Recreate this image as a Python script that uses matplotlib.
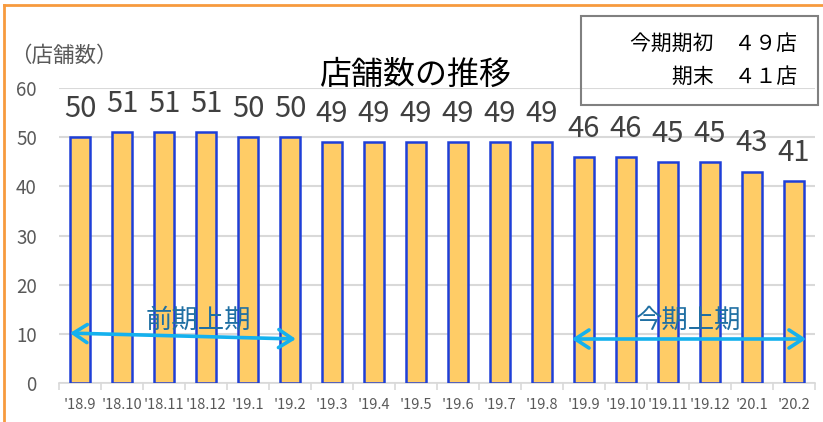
import matplotlib
matplotlib.use("Agg")
import matplotlib.pyplot as plt
from matplotlib.lines import Line2D
from matplotlib.patches import Rectangle

plt.rcParams['font.family'] = ['Noto Sans CJK JP', 'DejaVu Sans']

categories = ["'18.9", "'18.10", "'18.11", "'18.12", "'19.1", "'19.2", "'19.3", "'19.4",
              "'19.5", "'19.6", "'19.7", "'19.8", "'19.9", "'19.10", "'19.11", "'19.12",
              "'20.1", "'20.2"]
values = [50, 51, 51, 51, 50, 50, 49, 49, 49, 49, 49, 49, 46, 46, 45, 45, 43, 41]
yticks = [0, 10, 20, 30, 40, 50, 60]
title = "店舗数の推移"
ylabel = "（店舗数）"
box_lines = ["今期期初　４９店", "期末　４１店"]
prev_label = "前期上期"
curr_label = "今期上期"

W, H = 823, 422
fig = plt.figure(figsize=(W / 100, H / 100), dpi=100)
ax = fig.add_axes([59 / W, 1 - 383 / H, (815 - 59) / W, (383 - 88) / H])

x = list(range(len(categories)))
ax.bar(x, values, width=0.46, color='#FFCC66', edgecolor='#1E3FD8', linewidth=1.8, zorder=3)

for xi, v in zip(x, values):
    ax.annotate(str(v), (xi, v), xytext=(0, 14.5), textcoords='offset points',
                ha='center', va='baseline', fontsize=21, color='#404040')

ax.set_xlim(-0.5, len(categories) - 0.5)
ax.set_ylim(0, 60)
ax.set_yticks(yticks)
ax.yaxis.grid(True, color='#D9D9D9', linewidth=1.5, zorder=0)
ax.set_axisbelow(True)
for s in ['top', 'right', 'left']:
    ax.spines[s].set_visible(False)
ax.spines['bottom'].set_color('#D9D9D9')
ax.spines['bottom'].set_linewidth(1.2)

ax.set_xticks(x)
ax.set_xticklabels(categories, fontsize=10.5, color='#595959')
ax.tick_params(axis='x', which='major', length=0, pad=11)
ax.set_xticks([i - 0.5 for i in range(len(categories) + 1)], minor=True)
ax.tick_params(axis='x', which='minor', length=5, color='#D9D9D9', width=1.2)
ax.tick_params(axis='y', length=0, pad=16, labelsize=13.5, labelcolor='#595959')

# arrows
arrow_kw = dict(arrowstyle='<->,head_length=1.0,head_width=0.65', color='#14B1EE', lw=2.6,
                shrinkA=0, shrinkB=0)
ax.annotate('', xy=(5.14, 8.95), xytext=(-0.24, 10.15), arrowprops=arrow_kw, zorder=5)
ax.annotate('', xy=(17.29, 8.95), xytext=(11.71, 8.95), arrowprops=arrow_kw, zorder=5)
ax.text(2.81, 12.8, prev_label, ha='center', va='center', fontsize=19, color='#1F6FA3', zorder=6)
ax.text(14.46, 12.8, curr_label, ha='center', va='center', fontsize=19, color='#1F6FA3', zorder=6)

# title and y label
fig.text(415 / W, 1 - 75 / H, title, ha='center', va='center', fontsize=23, color='black')
fig.text(10 / W, 1 - 56 / H, ylabel, ha='left', va='center', fontsize=15.5, color='#595959')

# info box
fig.patches.append(Rectangle((581 / W, 1 - 105 / H), (818 - 581) / W, (105 - 16) / H,
                             transform=fig.transFigure, fill=False, edgecolor='#808080',
                             linewidth=1.5))
fig.text(797 / W, 1 - 44 / H, box_lines[0], ha='right', va='center', fontsize=15, color='black')
fig.text(797 / W, 1 - 77 / H, box_lines[1], ha='right', va='center', fontsize=15, color='black')

# orange frame (left and top)
fig.add_artist(Line2D([4 / W, 4 / W], [0, 1 - 5 / H], transform=fig.transFigure,
                      color='#F79A3E', linewidth=2))
fig.add_artist(Line2D([4 / W, 1], [1 - 5 / H, 1 - 5 / H], transform=fig.transFigure,
                      color='#F79A3E', linewidth=2))

fig.savefig('out.png', dpi=100)
